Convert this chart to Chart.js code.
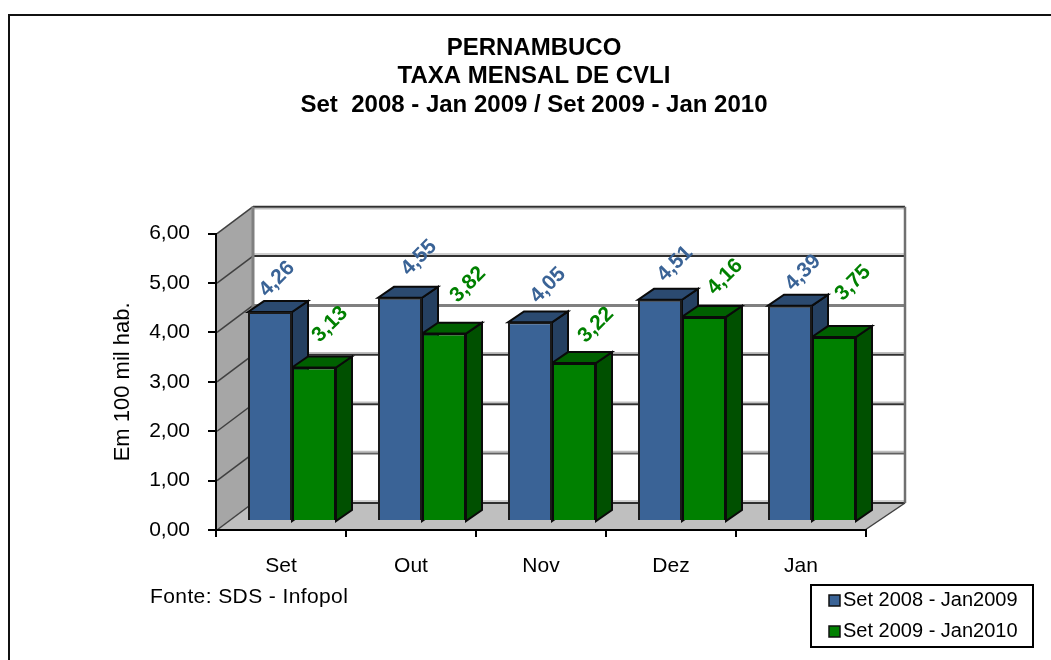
<!DOCTYPE html>
<html>
<head>
<meta charset="utf-8">
<script src="https://cdn.jsdelivr.net/npm/chart.js@4"></script>
<style>
  html, body { margin: 0; padding: 0; background: #fff; overflow: hidden; }
  #frame { position: absolute; left: 8px; top: 14px; width: 1100px; height: 700px; border: 2px solid #111; }
  canvas { position: absolute; left: 0; top: 0; }
</style>
</head>
<body>
<div id="frame"></div>
<canvas id="myChart" width="1051" height="660"></canvas>
<script>
var months = ['Set', 'Out', 'Nov', 'Dez', 'Jan'];
var serie2009 = [4.26, 4.55, 4.05, 4.51, 4.39];
var serie2010 = [3.13, 3.82, 3.22, 4.16, 3.75];
var serieNames = ['Set 2008 - Jan2009', 'Set 2009 - Jan2010'];
var titleLines = ['PERNAMBUCO', 'TAXA MENSAL DE CVLI', 'Set  2008 - Jan 2009 / Set 2009 - Jan 2010'];

// hand placed value labels, the original has them dragged around
var labelNudge = [
  [[7, -33], [19, -40], [18, -37], [15, -36], [13, -33]],
  [[16, -43], [24, -49], [22, -38], [21, -40], [19, -54]]
];

var FONT = '"Liberation Sans", Arial, sans-serif';
var blue = { front: '#3A6396', top: '#2B4A70', side: '#254061', text: '#3A6396' };
var green = { front: '#008000', top: '#006000', side: '#005000', text: '#008000' };
var colors = [blue, green];

// fake 3d geometry
var wallDx = 36, wallDy = -27;     // back wall offset from the axes
var barDx = 11, barDy = -9;        // bars stand a bit inside the floor
var barScale = 49 / 49.33;         // bars plane is a little smaller than the axis plane
var depthX = 16, depthY = -11;     // depth of each bar

function comma(v) {
  return v.toFixed(2).replace('.', ',');
}

function poly(ctx, pts, fill, stroke, lw) {
  ctx.beginPath();
  ctx.moveTo(pts[0][0], pts[0][1]);
  for (var i = 1; i < pts.length; i++) ctx.lineTo(pts[i][0], pts[i][1]);
  ctx.closePath();
  if (fill) { ctx.fillStyle = fill; ctx.fill(); }
  if (stroke) { ctx.strokeStyle = stroke; ctx.lineWidth = lw || 1; ctx.stroke(); }
}

function line(ctx, x1, y1, x2, y2, color, lw) {
  ctx.beginPath();
  ctx.moveTo(x1, y1);
  ctx.lineTo(x2, y2);
  ctx.strokeStyle = color;
  ctx.lineWidth = lw;
  ctx.stroke();
}

var walls = {
  id: 'walls',
  beforeDraw: function (chart) {
    var ctx = chart.ctx, x = chart.scales.x, y = chart.scales.y;
    var l = x.left + 1, r = x.right - 1, bot = y.getPixelForValue(0), top = y.getPixelForValue(6);
    var backR = r + wallDx + 4;
    ctx.save();
    // left wall and floor
    poly(ctx, [[l, top], [l + wallDx, top + wallDy], [l + wallDx, bot + wallDy], [l, bot]], '#A6A6A6');
    poly(ctx, [[l, bot], [l + wallDx, bot + wallDy], [backR, bot + wallDy], [r, bot]], '#BFBFBF');
    // grid lines run along the left wall and then the back wall
    y.ticks.forEach(function (t) {
      var py = y.getPixelForValue(t.value) + wallDy;
      var shade = t.value === 6 ? 2 : -2;
      line(ctx, l, py - wallDy, l + wallDx, py, '#404040', 1.5);
      if (t.value === 4) {
        line(ctx, l + wallDx, py, backR, py, '#808080', 3);
      } else {
        line(ctx, l + wallDx, py + shade, backR, py + shade, '#BFBFBF', 1.5);
        line(ctx, l + wallDx, py, backR, py, t.value === 1 ? '#606060' : '#303030', 2);
      }
    });
    line(ctx, l + wallDx, top + wallDy, l + wallDx, bot + wallDy, '#808080', 3);
    line(ctx, backR, top + wallDy, backR, bot + wallDy, '#707070', 2.5);
    // floor front edge going back to the wall
    line(ctx, r, bot, backR, bot + wallDy, '#404040', 1.5);
    ctx.restore();
  },
  // sides and tops go down first, blue before green, the fronts then cover them
  beforeDatasetsDraw: function (chart) {
    var ctx = chart.ctx;
    var base = chart.scales.y.getPixelForValue(0);
    ctx.save();
    ctx.translate(barDx, base + barDy);
    ctx.scale(1, barScale);
    ctx.translate(0, -base);
    [0, 1].forEach(function (s) {
      var c = colors[s];
      chart.getDatasetMeta(s).data.forEach(function (bar) {
        var r = bar.x + bar.width / 2, l = bar.x - bar.width / 2;
        poly(ctx, [[r, bar.y], [r + depthX, bar.y + depthY], [r + depthX, base + depthY], [r, base]], c.side, '#0a0a0a', 2);
        poly(ctx, [[l, bar.y], [l + depthX, bar.y + depthY], [r + depthX, bar.y + depthY], [r, bar.y]], c.top, '#0a0a0a', 2);
      });
    });
  },
  afterDatasetsDraw: function (chart) {
    chart.ctx.restore();
  },
  afterDraw: function (chart) {
    var ctx = chart.ctx, base = chart.scales.y.getPixelForValue(0);
    ctx.save();

    // value labels, rotated like the original
    [0, 1].forEach(function (s) {
      var meta = chart.getDatasetMeta(s);
      meta.data.forEach(function (bar, i) {
        var px = bar.x + barDx + labelNudge[s][i][0];
        var py = base + barDy + (bar.y - base) * barScale + labelNudge[s][i][1];
        ctx.save();
        ctx.translate(px, py);
        ctx.rotate(-Math.PI / 4);
        ctx.font = 'bold 21px ' + FONT;
        ctx.fillStyle = colors[s].text;
        ctx.textAlign = 'center';
        ctx.textBaseline = 'middle';
        ctx.fillText(comma(chart.data.datasets[s].data[i]), 0, 0);
        ctx.restore();
      });
    });

    // source note
    ctx.font = '21px ' + FONT;
    ctx.letterSpacing = '0.4px';
    ctx.fillStyle = '#000';
    ctx.textAlign = 'left';
    ctx.textBaseline = 'middle';
    ctx.fillText('Fonte: SDS - Infopol', 150, 597);
    ctx.letterSpacing = '0px';

    // legend box
    ctx.fillStyle = '#fff';
    ctx.fillRect(811, 585, 222, 62);
    ctx.strokeStyle = '#000';
    ctx.lineWidth = 2;
    ctx.strokeRect(811, 585, 222, 62);
    ctx.font = '20px ' + FONT;
    chart.data.datasets.forEach(function (ds, s) {
      var rowY = 600 + s * 31;
      ctx.fillStyle = colors[s].front;
      ctx.fillRect(829, rowY - 5, 11, 11);
      ctx.strokeStyle = '#111';
      ctx.lineWidth = 1.5;
      ctx.strokeRect(829, rowY - 5, 11, 11);
      ctx.fillStyle = '#000';
      ctx.fillText(ds.label, 843, rowY);
    });
    ctx.restore();
  }
};

var ctx = document.getElementById('myChart').getContext('2d');
var chart = new Chart(ctx, {
  type: 'bar',
  data: {
    labels: months,
    datasets: [
      { label: serieNames[0], data: serie2009, backgroundColor: blue.front, borderColor: '#1a1a1a', borderWidth: 2 },
      { label: serieNames[1], data: serie2010, backgroundColor: green.front, borderColor: '#0a0a0a', borderWidth: 2 }
    ]
  },
  plugins: [walls],
  options: {
    responsive: false,
    animation: false,
    layout: { padding: { left: 17, right: 0, top: 0, bottom: 0 } },
    font: { family: FONT },
    datasets: { bar: { barPercentage: 1, categoryPercentage: 88 / 130, clip: false } },
    plugins: {
      legend: { display: false },
      tooltip: { enabled: false },
      title: {
        display: true,
        text: titleLines,
        color: '#000',
        font: { family: FONT, size: 24, weight: 'bold', lineHeight: 1.19 },
        padding: { top: 34, bottom: 114 }
      }
    },
    scales: {
      x: {
        afterFit: function (s) { s.height = 130; },
        grid: { drawOnChartArea: false, color: '#000', lineWidth: 2, tickLength: 7 },
        border: { color: '#000', width: 2 },
        ticks: { color: '#000', font: { family: FONT, size: 21 }, padding: 17, maxRotation: 0 }
      },
      y: {
        min: 0,
        max: 6,
        afterFit: function (s) { s.width = 199; },
        grid: { drawOnChartArea: false, color: '#000', lineWidth: 2, tickLength: 8 },
        border: { color: '#000', width: 2 },
        ticks: {
          stepSize: 1,
          color: '#000',
          font: { family: FONT, size: 21 },
          padding: 18,
          callback: function (v) { return comma(v); }
        },
        title: {
          display: true,
          text: 'Em 100 mil hab.',
          color: '#000',
          font: { family: FONT, size: 22 },
          padding: { top: 93, bottom: 0 }
        }
      },
      // empty axis, only reserves the room on the right where the legend sits
      room: {
        type: 'linear',
        position: 'right',
        afterFit: function (s) { s.width = 185; },
        grid: { display: false },
        border: { display: false },
        ticks: { display: false }
      }
    }
  }
});
</script>
</body>
</html>
